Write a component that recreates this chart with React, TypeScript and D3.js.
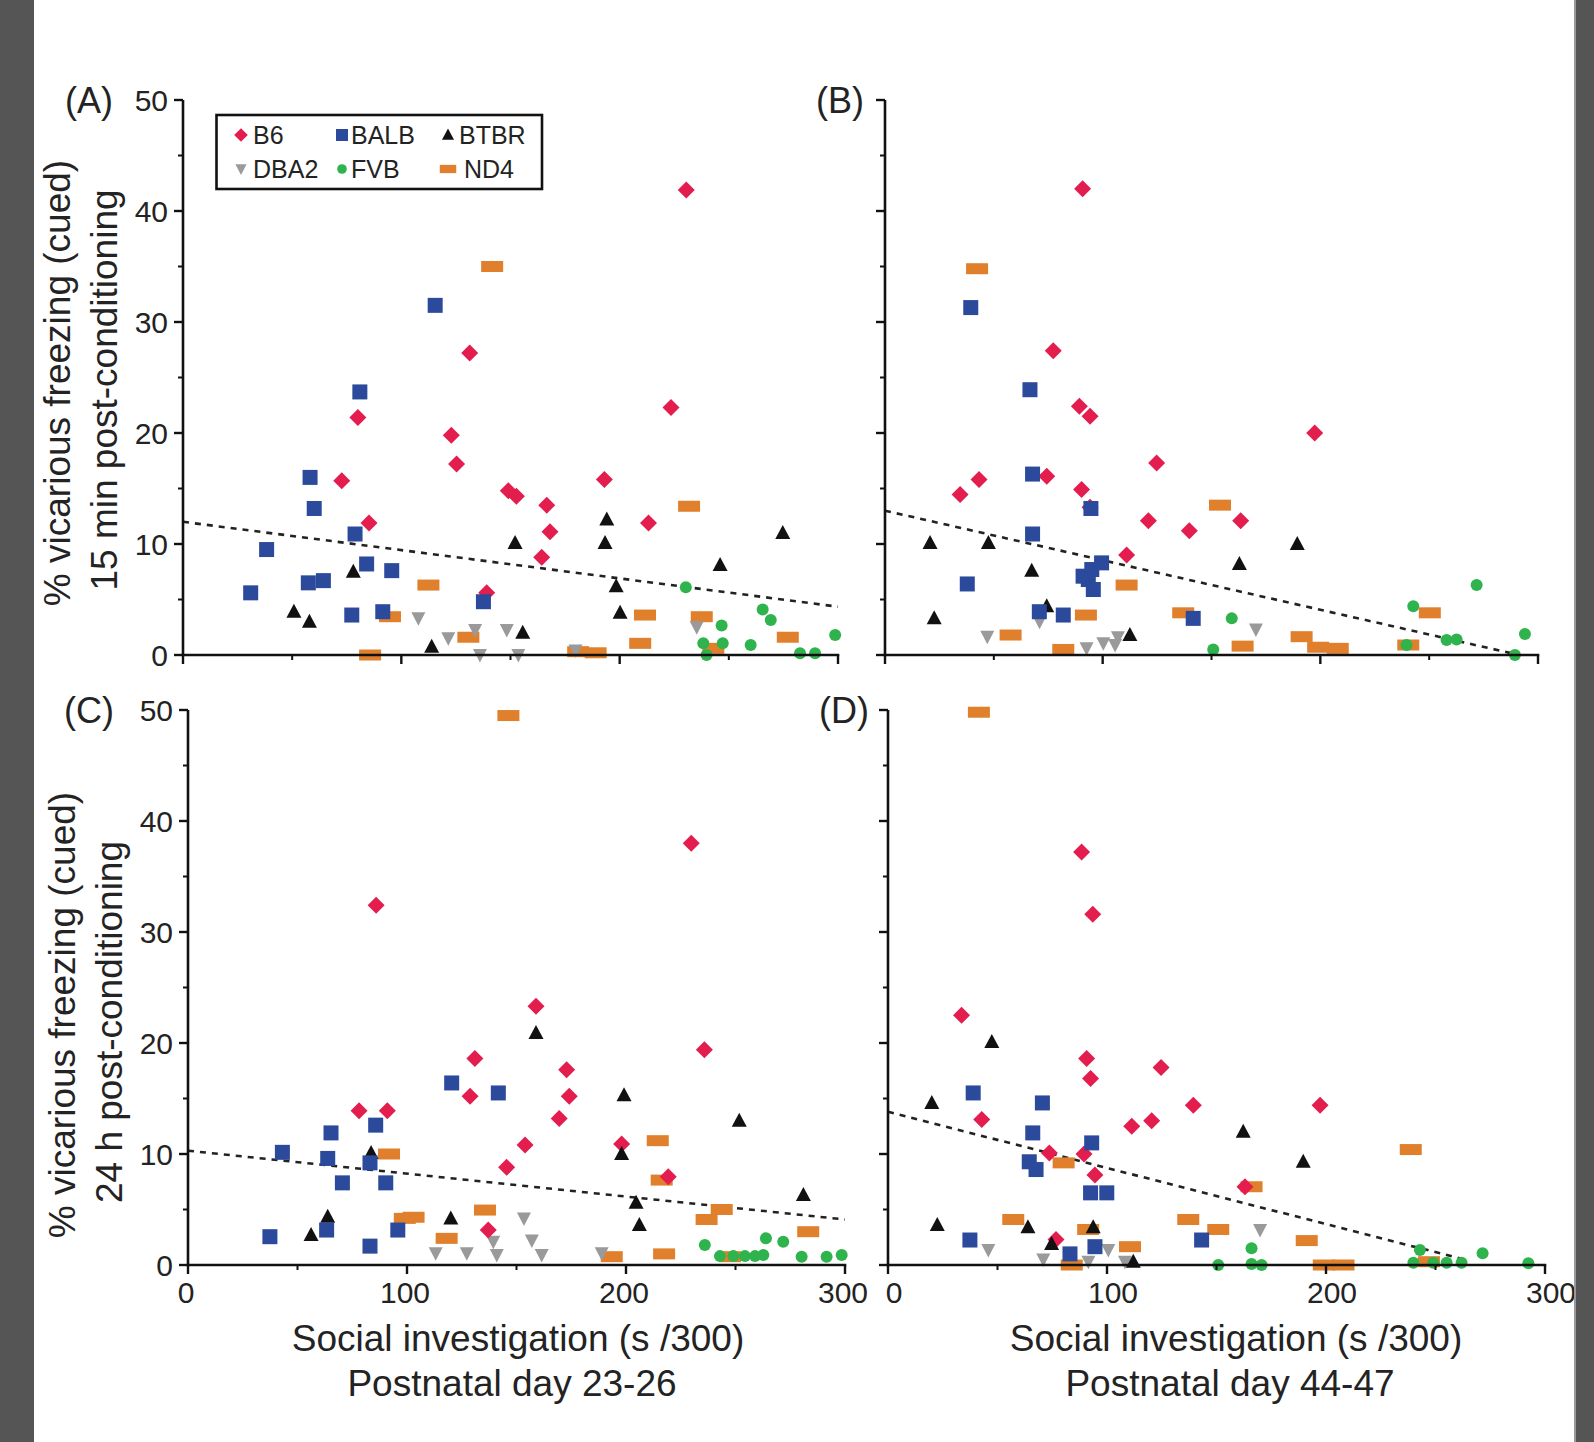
import React, { useEffect } from 'react';
import * as d3 from 'd3';

const W = 1594;
const H = 1442;

type Pt = [number, number];

const strainNames = ['B6', 'BALB', 'BTBR', 'DBA2', 'FVB', 'ND4'];
const strainColors: Record<string, string> = {
  B6: '#e31d4d',
  BALB: '#2c4a9c',
  BTBR: '#111111',
  DBA2: '#9a9a9a',
  FVB: '#2fb34c',
  ND4: '#e0802c',
};
const drawOrder = ['ND4', 'FVB', 'DBA2', 'B6', 'BTBR', 'BALB'];

const yTicks = [0, 10, 20, 30, 40, 50];
const yMinorTicks = [5, 15, 25, 35, 45];
const xTicks = [0, 100, 200, 300];
const xMinorTicks = [50, 150, 250];

// ---------- Panel A: P23-26, 15 min ----------
const A_B6: Pt[] = [[230.5, 41.9], [131.3, 27.2], [223.5, 22.3], [80.1, 21.4], [122.9, 19.8], [125.3, 17.2], [72.7, 15.7], [193, 15.8], [149, 14.8], [152.7, 14.3], [166.6, 13.5], [168.1, 11.1], [213.2, 11.9], [85.2, 11.9], [164.3, 8.8], [139.1, 5.6]];
const A_BALB: Pt[] = [[115.5, 31.5], [81, 23.7], [58.2, 16], [60.1, 13.2], [38.3, 9.5], [78.8, 10.9], [84.1, 8.2], [95.6, 7.6], [31, 5.6], [57.4, 6.5], [64.3, 6.7], [77.3, 3.6], [91.5, 3.9], [137.6, 4.8]];
const A_BTBR: Pt[] = [[50.8, 3.9], [57.9, 3.0], [78, 7.5], [113.9, 0.75], [152.1, 10.1], [155.6, 2.0], [194.1, 12.2], [193.3, 10.1], [198.4, 6.2], [200.2, 3.8], [246, 8.1], [274.7, 11.0]];
const A_DBA2: Pt[] = [[107.8, 3.3], [121.5, 1.5], [133.8, 2.25], [136, 0], [148.3, 2.25], [153.6, 0], [179.8, 0.4], [235.3, 2.5]];
const A_FVB: Pt[] = [[230.3, 6.1], [246.7, 2.65], [247.2, 1.05], [238.3, 1.05], [239.8, 0], [260, 0.9], [265.5, 4.1], [269.2, 3.15], [282.6, 0.15], [289.5, 0.15], [298.7, 1.8]];
const A_ND4: Pt[] = [[141.6, 35.0], [231.8, 13.4], [112.4, 6.3], [94.8, 3.45], [85.7, 0], [130.7, 1.6], [211.6, 3.6], [209.4, 1.05], [181, 0.3], [189, 0.2], [237.6, 3.45], [242.9, 0.6], [277, 1.6]];
const A_trend: Pt[] = [[0, 12.0], [300, 4.35]];

// ---------- Panel B: P44-47, 15 min ----------
const B_B6: Pt[] = [[90.8, 42.0], [77.3, 27.4], [89.3, 22.4], [94.2, 21.5], [197.4, 20.0], [34.5, 14.45], [43.2, 15.8], [74.3, 16.1], [90.3, 14.9], [124.8, 17.3], [121, 12.1], [139.8, 11.2], [111, 9.0], [163.4, 12.1], [94.2, 13.3]];
const B_BALB: Pt[] = [[39.4, 31.3], [66.6, 23.9], [67.8, 16.3], [67.8, 10.9], [37.8, 6.4], [70.9, 3.9], [81.9, 3.6], [91, 7.1], [95, 7.7], [99.5, 8.3], [93.4, 6.8], [95.7, 5.9], [94.6, 13.2], [141.6, 3.3]];
const B_BTBR: Pt[] = [[20.7, 10.1], [47.5, 10.1], [67.4, 7.6], [22.6, 3.3], [74.3, 4.4], [112.5, 1.8], [162.8, 8.2], [189.4, 10.0]];
const B_DBA2: Pt[] = [[47, 1.65], [100.3, 1.05], [105.7, 0.9], [107, 1.6], [92.6, 0.6], [170.4, 2.3], [71, 3.0]];
const B_FVB: Pt[] = [[159.3, 3.3], [150.8, 0.5], [242.7, 4.4], [271.8, 6.3], [258, 1.35], [262.6, 1.4], [294, 1.9], [289.4, 0], [239.6, 0.9]];
const B_ND4: Pt[] = [[42.3, 34.8], [153.9, 13.5], [111, 6.3], [57.7, 1.8], [92.3, 3.6], [81.9, 0.5], [137, 3.8], [164.3, 0.8], [191.4, 1.65], [199, 0.7], [208, 0.6], [240.4, 0.9], [250.3, 3.8]];
const B_trend: Pt[] = [[0, 13.0], [288, 0.15]];

// ---------- Panel C: P23-26, 24 h ----------
const C_B6: Pt[] = [[131, 18.6], [128.8, 15.2], [78.1, 13.9], [91, 13.9], [145.5, 8.8], [153.9, 10.8], [137.1, 3.15], [85.9, 32.4], [229.8, 38.0], [158.9, 23.3], [235.8, 19.4], [172.9, 17.6], [174.1, 15.2], [169.5, 13.2], [198, 10.9], [219.3, 7.95]];
const C_BALB: Pt[] = [[120.4, 16.4], [141.7, 15.5], [65.3, 11.9], [85.7, 12.6], [43.1, 10.15], [63.8, 9.6], [83.1, 9.2], [70.5, 7.4], [90.3, 7.4], [37.4, 2.55], [63.3, 3.15], [95.8, 3.15], [83.1, 1.7]];
const C_BTBR: Pt[] = [[83.6, 10.1], [63.8, 4.35], [56.2, 2.7], [120, 4.2], [158.9, 20.9], [199.1, 15.3], [198, 10.0], [251.7, 13.0], [204.6, 5.6], [206.1, 3.6], [281, 6.3]];
const C_DBA2: Pt[] = [[113.1, 1.05], [127.3, 1.05], [141, 0.9], [139.4, 2.1], [153.4, 4.2], [157, 2.2], [161.5, 0.9], [188.9, 1.05]];
const C_FVB: Pt[] = [[236, 1.8], [242.9, 0.8], [249, 0.8], [254.3, 0.8], [258.9, 0.8], [262.7, 0.9], [263.9, 2.4], [271.8, 2.1], [280.2, 0.75], [291.6, 0.75], [298.5, 0.9]];
const C_ND4: Pt[] = [[146.3, 49.5], [91.8, 10], [99, 4.2], [103, 4.3], [135.6, 4.95], [118.1, 2.4], [214.5, 11.2], [216.3, 7.65], [243.7, 5.0], [236.8, 4.1], [283.2, 3.0], [217.4, 1.0], [193.5, 0.75], [247.5, 0.75]];
const C_trend: Pt[] = [[0, 10.3], [300, 4.1]];

// ---------- Panel D: P44-47, 24 h ----------
const D_B6: Pt[] = [[33.6, 22.5], [90.7, 18.6], [92.5, 16.8], [124.7, 17.8], [139.4, 14.4], [42.8, 13.1], [111.3, 12.5], [120.4, 13.0], [73.7, 10.1], [89.5, 10], [94.5, 8.1], [76.7, 2.3], [88.4, 37.2], [93.5, 31.6], [197.3, 14.4], [163, 7.05]];
const D_BALB: Pt[] = [[38.9, 15.5], [70.5, 14.6], [66.1, 11.9], [93, 11.0], [64.5, 9.3], [67.6, 8.6], [92.5, 6.5], [99.9, 6.5], [37.4, 2.25], [83.1, 1.0], [94.5, 1.65], [143.2, 2.25]];
const D_BTBR: Pt[] = [[47.4, 20.1], [20, 14.6], [22.5, 3.6], [63.9, 3.4], [74.7, 1.9], [93.7, 3.4], [112, 0.3], [162.2, 12.0], [189.6, 9.3]];
const D_DBA2: Pt[] = [[45.8, 1.35], [70.9, 0.5], [91.5, 0.3], [100.6, 1.35], [108.2, 0.3], [169.9, 3.15]];
const D_FVB: Pt[] = [[150.8, 0], [166, 1.5], [166, 0.1], [170.6, 0], [242.9, 1.35], [239.9, 0.2], [249, 0.2], [255.1, 0.2], [261.9, 0.2], [271.5, 1.05], [292.4, 0.15]];
const D_ND4: Pt[] = [[41.5, 49.8], [57.2, 4.1], [80.2, 9.2], [91.4, 3.2], [110.5, 1.65], [137.1, 4.1], [83.9, 0], [150.8, 3.2], [166, 7.05], [238.7, 10.4], [191.2, 2.2], [199, 0], [208, 0], [247, 0.3]];
const D_trend: Pt[] = [[0, 13.8], [265, 0.4]];

interface PanelDef {
  label: string;
  x0: number; x1: number; y0: number; y1: number;
  series: Record<string, Pt[]>;
  trend: Pt[];
  yLabels: boolean;
  xLabels: boolean;
  labelX: number;
  xLabelShift: number;
}

const panels: PanelDef[] = [
  { label: '(A)', x0: 183, x1: 838, y0: 655, y1: 100, series: { B6: A_B6, BALB: A_BALB, BTBR: A_BTBR, DBA2: A_DBA2, FVB: A_FVB, ND4: A_ND4 }, trend: A_trend, yLabels: true, xLabels: false, labelX: 89, xLabelShift: 0 },
  { label: '(B)', x0: 885, x1: 1538, y0: 655, y1: 100, series: { B6: B_B6, BALB: B_BALB, BTBR: B_BTBR, DBA2: B_DBA2, FVB: B_FVB, ND4: B_ND4 }, trend: B_trend, yLabels: false, xLabels: false, labelX: 840, xLabelShift: 0 },
  { label: '(C)', x0: 188, x1: 845, y0: 1265, y1: 710, series: { B6: C_B6, BALB: C_BALB, BTBR: C_BTBR, DBA2: C_DBA2, FVB: C_FVB, ND4: C_ND4 }, trend: C_trend, yLabels: true, xLabels: true, labelX: 89, xLabelShift: -2 },
  { label: '(D)', x0: 888, x1: 1545, y0: 1265, y1: 710, series: { B6: D_B6, BALB: D_BALB, BTBR: D_BTBR, DBA2: D_DBA2, FVB: D_FVB, ND4: D_ND4 }, trend: D_trend, yLabels: false, xLabels: true, labelX: 844, xLabelShift: 6 },
];

const FONT = '"Liberation Sans", Arial, Helvetica, sans-serif';
const TEXT = '#232323';

function Marker({ strain, x, y, s = 1 }: { strain: string; x: number; y: number; s?: number }) {
  const c = strainColors[strain];
  switch (strain) {
    case 'B6': {
      const h = 8.5 * s;
      return <path d={`M${x},${y - h}L${x + h},${y}L${x},${y + h}L${x - h},${y}Z`} fill={c} />;
    }
    case 'BALB': {
      const h = 7.5 * s;
      return <rect x={x - h} y={y - h} width={2 * h} height={2 * h} fill={c} />;
    }
    case 'BTBR': {
      const w = 7.5 * s;
      return <path d={`M${x},${y - 8 * s}L${x + w},${y + 6 * s}L${x - w},${y + 6 * s}Z`} fill={c} />;
    }
    case 'DBA2': {
      const w = 7 * s;
      return <path d={`M${x - w},${y - 6 * s}L${x + w},${y - 6 * s}L${x},${y + 7.5 * s}Z`} fill={c} />;
    }
    case 'FVB':
      return <circle cx={x} cy={y} r={6 * s} fill={c} />;
    case 'ND4':
    default:
      return <rect x={x - 11 * s} y={y - 5.5 * s} width={22 * s} height={11 * s} fill={c} />;
  }
}

function Panel({ p }: { p: PanelDef }) {
  const xs = d3.scaleLinear().domain([0, 300]).range([p.x0, p.x1]);
  const ys = d3.scaleLinear().domain([0, 50]).range([p.y0, p.y1]);
  const line = d3.line<Pt>().x((d) => xs(d[0])).y((d) => ys(d[1]));
  const ax = xs(0);
  const ay = ys(0);
  return (
    <g>
      <path d={line(p.trend) || ''} fill="none" stroke="#222" strokeWidth={2.6} strokeDasharray="6 6" />
      {drawOrder.map((st) => (
        <g key={st}>
          {p.series[st].map((d, i) => (
            <Marker key={i} strain={st} x={xs(d[0])} y={ys(d[1])} />
          ))}
        </g>
      ))}
      <line x1={ax} x2={ax} y1={ys(0) + 1.3} y2={ys(50)} stroke="#111" strokeWidth={2.6} />
      <line x1={ax - 1.3} x2={xs(300) + 1.3} y1={ay} y2={ay} stroke="#111" strokeWidth={2.6} />
      {yTicks.map((t) => (
        <line key={'yt' + t} x1={ax} x2={ax - 9} y1={ys(t)} y2={ys(t)} stroke="#111" strokeWidth={2.4} />
      ))}
      {yMinorTicks.map((t) => (
        <line key={'ym' + t} x1={ax} x2={ax - 5} y1={ys(t)} y2={ys(t)} stroke="#111" strokeWidth={2} />
      ))}
      {xTicks.map((t) => (
        <line key={'xt' + t} x1={xs(t)} x2={xs(t)} y1={ay} y2={ay + 9} stroke="#111" strokeWidth={2.4} />
      ))}
      {xMinorTicks.map((t) => (
        <line key={'xm' + t} x1={xs(t)} x2={xs(t)} y1={ay} y2={ay + 5} stroke="#111" strokeWidth={2} />
      ))}
      {p.yLabels &&
        yTicks.map((t) => (
          <text key={'yl' + t} x={ax - 15} y={ys(t)} dy="0.36em" textAnchor="end" fontSize={30} fontFamily={FONT} fill={TEXT}>
            {t}
          </text>
        ))}
      {p.xLabels &&
        xTicks.map((t) => (
          <text key={'xl' + t} x={xs(t) + p.xLabelShift} y={ay + 38} textAnchor="middle" fontSize={30} fontFamily={FONT} fill={TEXT}>
            {t}
          </text>
        ))}
      <text x={p.labelX} y={ys(50)} dy="0.36em" textAnchor="middle" fontSize={36} fontFamily={FONT} fill={TEXT}>
        {p.label}
      </text>
    </g>
  );
}

const legendRows: string[][] = [
  ['B6', 'BALB', 'BTBR'],
  ['DBA2', 'FVB', 'ND4'],
];
const legendMarkerX = [241, 342, 448];
const legendTextX = [253, 351, 459];
const legendRowY = [135, 169];

function Legend() {
  return (
    <g>
      <rect x={216.5} y={115} width={325.5} height={74} fill="#fff" stroke="#111" strokeWidth={2.6} />
      {legendRows.map((row, ri) =>
        row.map((st, ci) => (
          <g key={st}>
            <Marker strain={st} x={legendMarkerX[ci]} y={legendRowY[ri]} s={st === 'ND4' ? 0.75 : 0.8} />
            <text x={legendTextX[ci] + (st === 'ND4' ? 5 : 0)} y={legendRowY[ri]} dy="0.36em" fontSize={25} fontFamily={FONT} fill={TEXT}>
              {st}
            </text>
          </g>
        ))
      )}
    </g>
  );
}

export default function App() {
  useEffect(() => {
    document.body.style.margin = '0';
  }, []);
  return (
    <svg width={W} height={H} viewBox={`0 0 ${W} ${H}`} style={{ display: 'block', position: 'absolute', left: 0, top: 0, background: '#fff' }}>
      <rect x={0} y={0} width={W} height={H} fill="#fff" />
      {panels.map((p) => (
        <Panel key={p.label} p={p} />
      ))}
      <Legend />
      <text transform="translate(57,383) rotate(-90)" textAnchor="middle" dominantBaseline="central" fontSize={37} fontFamily={FONT} fill={TEXT}>
        % vicarious freezing (cued)
      </text>
      <text transform="translate(104,390) rotate(-90)" textAnchor="middle" dominantBaseline="central" fontSize={37} fontFamily={FONT} fill={TEXT}>
        15 min post-conditioning
      </text>
      <text transform="translate(62,1015) rotate(-90)" textAnchor="middle" dominantBaseline="central" fontSize={37} fontFamily={FONT} fill={TEXT}>
        % vicarious freezing (cued)
      </text>
      <text transform="translate(109,1022) rotate(-90)" textAnchor="middle" dominantBaseline="central" fontSize={37} fontFamily={FONT} fill={TEXT}>
        24 h post-conditioning
      </text>
      <text x={518} y={1338} textAnchor="middle" dominantBaseline="central" fontSize={37} fontFamily={FONT} fill={TEXT}>
        Social investigation (s /300)
      </text>
      <text x={512} y={1383} textAnchor="middle" dominantBaseline="central" fontSize={37} fontFamily={FONT} fill={TEXT}>
        Postnatal day 23-26
      </text>
      <text x={1236} y={1338} textAnchor="middle" dominantBaseline="central" fontSize={37} fontFamily={FONT} fill={TEXT}>
        Social investigation (s /300)
      </text>
      <text x={1230} y={1383} textAnchor="middle" dominantBaseline="central" fontSize={37} fontFamily={FONT} fill={TEXT}>
        Postnatal day 44-47
      </text>
      <rect x={0} y={0} width={34} height={H} fill="#555555" />
      <rect x={1574} y={0} width={20} height={H} fill="#555555" />
      <rect x={1574} y={0} width={2} height={H} fill="#999999" />
    </svg>
  );
}
